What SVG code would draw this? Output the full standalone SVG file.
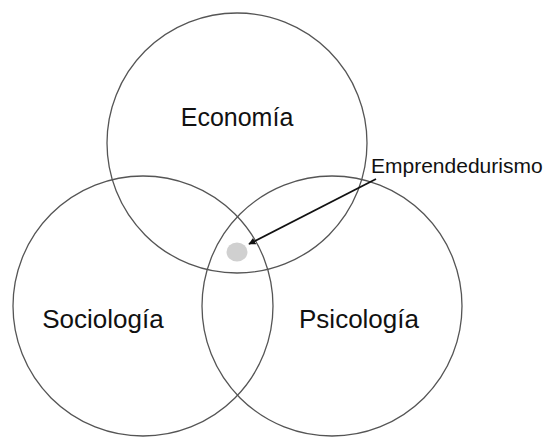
<svg xmlns="http://www.w3.org/2000/svg" width="553" height="437" viewBox="0 0 553 437">
  <defs>
    <style>
      .set { fill: none; stroke: #555555; stroke-width: 1.3; }
      .label { font-family: "Liberation Sans", Arial, sans-serif; fill: #111111; }
      .big { font-size: 25px; text-anchor: middle; }
      .small { font-size: 21px; }
    </style>
    <marker id="arrowhead" viewBox="0 0 10 10" refX="9" refY="5" markerWidth="7" markerHeight="7" orient="auto-start-reverse" markerUnits="userSpaceOnUse">
      <path d="M0,0 L10,5 L0,10 z" fill="#111111"/>
    </marker>
  </defs>
  <rect width="553" height="437" fill="#ffffff"/>

  <g id="economia">
    <circle class="set" cx="237" cy="143" r="130"/>
    <text class="label big" x="237" y="126">Economía</text>
  </g>
  <g id="sociologia">
    <circle class="set" cx="143" cy="306" r="130"/>
    <text class="label big" x="103" y="328" style="font-size:26px">Sociología</text>
  </g>
  <g id="psicologia">
    <circle class="set" cx="332" cy="306" r="130"/>
    <text class="label big" x="359" y="328" style="font-size:26px">Psicología</text>
  </g>
  <g id="emprendedurismo">
    <ellipse cx="237" cy="252" rx="10.5" ry="9.5" fill="#d0d0d0"/>
    <text class="label small" x="371" y="173">Emprendedurismo</text>
  </g>

  <g id="connectors">
    <line x1="376" y1="179" x2="249" y2="244" stroke="#111111" stroke-width="1.8" marker-end="url(#arrowhead)"/>
  </g>
</svg>
